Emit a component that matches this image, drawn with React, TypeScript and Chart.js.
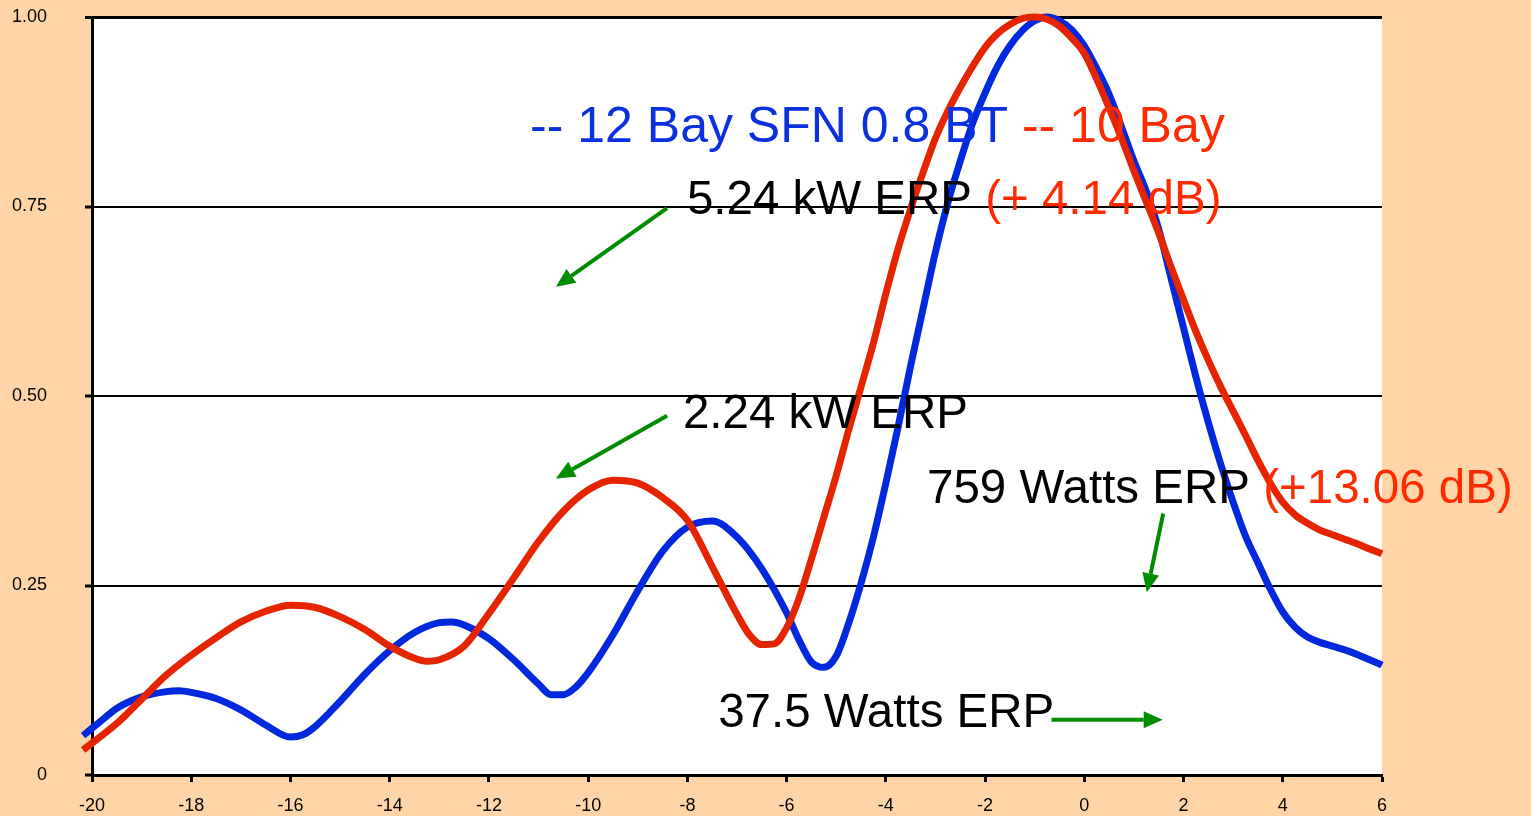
import React, { useEffect, useRef } from 'react';
import { Chart, registerables } from 'chart.js';

Chart.register(...registerables);

// ---- Data (angle in degrees vs. relative field) ----
const blueCurve: number[][] = [
  [-20.18, 0.052], [-19.75, 0.075], [-19.5, 0.088], [-19, 0.103], [-18.5, 0.11], [-18.25, 0.111],
  [-18, 0.109], [-17.5, 0.101], [-17, 0.086], [-16.5, 0.066], [-16, 0.05], [-15.75, 0.053],
  [-15.5, 0.064], [-15, 0.097], [-14.5, 0.133], [-14, 0.164], [-13.5, 0.188], [-13, 0.201],
  [-12.75, 0.202], [-12.5, 0.198], [-12, 0.18], [-11.5, 0.152], [-11, 0.12], [-10.75, 0.106],
  [-10.5, 0.106], [-10.25, 0.116], [-10, 0.135], [-9.5, 0.185], [-9, 0.243], [-8.5, 0.295],
  [-8, 0.327], [-7.5, 0.335], [-7, 0.314], [-6.5, 0.272], [-6, 0.214], [-5.75, 0.178],
  [-5.5, 0.149], [-5.25, 0.142], [-5, 0.157], [-4.75, 0.2], [-4.5, 0.253], [-4.25, 0.314],
  [-4, 0.385], [-3.75, 0.46], [-3.5, 0.54], [-3.25, 0.615], [-3, 0.69], [-2.75, 0.755],
  [-2.5, 0.81], [-2.25, 0.86], [-2, 0.9], [-1.75, 0.935], [-1.5, 0.962], [-1.25, 0.982],
  [-1, 0.995], [-0.75, 1.0], [-0.5, 0.995], [-0.25, 0.983], [0, 0.962], [0.25, 0.932],
  [0.5, 0.898], [0.75, 0.855], [1, 0.81], [1.25, 0.77], [1.5, 0.72], [1.75, 0.655],
  [2, 0.59], [2.25, 0.525], [2.5, 0.465], [2.75, 0.41], [3, 0.36], [3.25, 0.315],
  [3.5, 0.28], [3.75, 0.245], [4, 0.215], [4.25, 0.195], [4.5, 0.182], [4.75, 0.175],
  [5, 0.17], [5.25, 0.165], [5.5, 0.159], [5.75, 0.152], [6, 0.145], [6.16, 0.138],
];

const redCurve: number[][] = [
  [-20.18, 0.033], [-19.5, 0.068], [-19, 0.1], [-18.5, 0.132], [-18, 0.158], [-17.5, 0.181],
  [-17, 0.202], [-16.5, 0.216], [-16, 0.224], [-15.5, 0.221], [-15, 0.209], [-14.5, 0.192],
  [-14, 0.17], [-13.5, 0.154], [-13.25, 0.15], [-13, 0.152], [-12.5, 0.17], [-12, 0.213],
  [-11.5, 0.26], [-11, 0.308], [-10.5, 0.348], [-10, 0.376], [-9.5, 0.389], [-9, 0.385],
  [-8.5, 0.366], [-8, 0.336], [-7.5, 0.275], [-7, 0.212], [-6.75, 0.185], [-6.5, 0.172],
  [-6.25, 0.173], [-6, 0.194], [-5.75, 0.233], [-5.5, 0.285], [-5.25, 0.34], [-5, 0.395],
  [-4.75, 0.455], [-4.5, 0.512], [-4.25, 0.57], [-4, 0.635], [-3.75, 0.695], [-3.5, 0.747],
  [-3.25, 0.795], [-3, 0.84], [-2.75, 0.876], [-2.5, 0.907], [-2.25, 0.935], [-2, 0.96],
  [-1.75, 0.978], [-1.5, 0.99], [-1.25, 0.998], [-1, 1.0], [-0.75, 0.997], [-0.5, 0.988],
  [-0.25, 0.972], [0, 0.952], [0.25, 0.918], [0.5, 0.88], [0.75, 0.84], [1, 0.797],
  [1.25, 0.756], [1.5, 0.715], [1.75, 0.67], [2, 0.627], [2.25, 0.585], [2.5, 0.547],
  [2.75, 0.512], [3, 0.48], [3.25, 0.448], [3.5, 0.415], [3.75, 0.385], [4, 0.36],
  [4.25, 0.343], [4.5, 0.332], [4.75, 0.323], [5, 0.317], [5.25, 0.311], [5.5, 0.305],
  [5.75, 0.298], [6, 0.292], [6.16, 0.287],
];

const xRange = [-20, 6];
const xStep = 2;
const yRange = [0, 1];
const yStep = 0.25;

// Annotation texts: [x, y (baseline), font size, [text, colorKey]...]
const titleParts = [['-- 12 Bay SFN 0.8 BT ', 'blue'], ['-- 10 Bay', 'red']];
const labelTexts: { x: number; y: number; size: number; parts: string[][] }[] = [
  { x: -11.17, y: 0.835, size: 50, parts: titleParts },
  { x: -8.01, y: 0.74, size: 47.5, parts: [['5.24 kW ERP ', 'black'], ['(+ 4.14 dB)', 'red']] },
  { x: -8.09, y: 0.458, size: 47.5, parts: [['2.24 kW ERP', 'black']] },
  { x: -3.17, y: 0.359, size: 47.5, parts: [['759 Watts ERP ', 'black'], ['(+13.06 dB)', 'red']] },
  { x: -7.38, y: 0.063, size: 47.5, parts: [['37.5 Watts ERP', 'black']] },
];

// Arrows: [fromX, fromY, toX, toY]
const arrows: number[][] = [
  [-8.41, 0.748, -10.65, 0.644],
  [-8.41, 0.474, -10.65, 0.391],
  [1.59, 0.345, 1.26, 0.241],
  [-0.66, 0.073, 1.58, 0.073],
];

const PEACH = '#FFD5A8';
const BLUE_LINE = '#0028DC';
const RED_LINE = '#E52400';
const TEXT_COLORS: Record<string, string> = { blue: '#0A30E0', red: '#FF2A00', black: '#000000' };
const GREEN = '#008C00';
const FONT = '"Liberation Sans", Arial, sans-serif';

const decorPlugin = {
  id: 'decor',
  beforeDraw(chart: any) {
    const { ctx, chartArea } = chart;
    ctx.save();
    ctx.fillStyle = PEACH;
    ctx.fillRect(0, 0, chart.width, chart.height);
    ctx.fillStyle = '#FFFFFF';
    ctx.fillRect(chartArea.left, chartArea.top, chartArea.right - chartArea.left, chartArea.bottom - chartArea.top);
    ctx.restore();
  },
  afterDatasetsDraw(chart: any) {
    const { ctx } = chart;
    const xs = chart.scales.x;
    const ys = chart.scales.y;
    ctx.save();
    // arrows
    for (const a of arrows) {
      const x1 = xs.getPixelForValue(a[0]);
      const y1 = ys.getPixelForValue(a[1]);
      const x2 = xs.getPixelForValue(a[2]);
      const y2 = ys.getPixelForValue(a[3]);
      const ang = Math.atan2(y2 - y1, x2 - x1);
      const headLen = 19;
      const headHalf = 8.5;
      const bx = x2 - headLen * Math.cos(ang);
      const by = y2 - headLen * Math.sin(ang);
      ctx.strokeStyle = GREEN;
      ctx.fillStyle = GREEN;
      ctx.lineWidth = 4;
      ctx.beginPath();
      ctx.moveTo(x1, y1);
      ctx.lineTo(bx, by);
      ctx.stroke();
      ctx.beginPath();
      ctx.moveTo(x2, y2);
      ctx.lineTo(bx + headHalf * Math.sin(ang), by - headHalf * Math.cos(ang));
      ctx.lineTo(bx - headHalf * Math.sin(ang), by + headHalf * Math.cos(ang));
      ctx.closePath();
      ctx.fill();
    }
    // texts
    ctx.textBaseline = 'alphabetic';
    ctx.textAlign = 'left';
    for (const t of labelTexts) {
      let px = xs.getPixelForValue(t.x);
      const py = ys.getPixelForValue(t.y);
      ctx.font = `${t.size}px ${FONT}`;
      for (const [s, c] of t.parts) {
        ctx.fillStyle = TEXT_COLORS[c];
        ctx.fillText(s, px, py);
        px += ctx.measureText(s).width;
      }
    }
    ctx.restore();
  },
};

export default function App() {
  const canvasRef = useRef<HTMLCanvasElement | null>(null);

  useEffect(() => {
    document.body.style.margin = '0';
    const canvas = canvasRef.current;
    if (!canvas) return;
    const chart = new Chart(canvas, {
      type: 'line',
      data: {
        datasets: [
          {
            label: '10 Bay',
            data: redCurve.map(([x, y]) => ({ x, y })),
            borderColor: RED_LINE,
            borderWidth: 7,
            pointRadius: 0,
            fill: false,
            cubicInterpolationMode: 'monotone',
            clip: false,
            order: 1,
          },
          {
            label: '12 Bay SFN 0.8 BT',
            data: blueCurve.map(([x, y]) => ({ x, y })),
            borderColor: BLUE_LINE,
            borderWidth: 7,
            pointRadius: 0,
            fill: false,
            cubicInterpolationMode: 'monotone',
            clip: false,
            order: 2,
          },
        ],
      },
      options: {
        animation: false,
        responsive: false,
        maintainAspectRatio: false,
        layout: { autoPadding: false, padding: { left: 0, top: 17, right: 149, bottom: 0 } },
        plugins: { legend: { display: false }, tooltip: { enabled: false }, title: { display: false } },
        scales: {
          x: {
            type: 'linear',
            position: 'bottom',
            min: xRange[0],
            max: xRange[1],
            afterFit: (s: any) => {
              s.height = 41;
              s.paddingLeft = 0;
              s.paddingRight = 0;
            },
            ticks: {
              stepSize: xStep,
              color: '#000',
              font: { family: FONT, size: 18 },
              padding: 13,
              maxRotation: 0,
              autoSkip: false,
            },
            grid: {
              drawOnChartArea: false,
              drawTicks: true,
              tickLength: 7,
              tickWidth: 3,
              tickColor: '#000',
              color: '#000',
            },
            border: { display: true, color: '#000', width: 3 },
          },
          y: {
            type: 'linear',
            min: yRange[0],
            max: yRange[1],
            afterFit: (s: any) => {
              s.width = 92;
              s.paddingTop = 0;
              s.paddingBottom = 0;
            },
            ticks: {
              stepSize: yStep,
              color: '#000',
              font: { family: FONT, size: 18 },
              padding: 38,
              callback: (v: any) => (Number(v) === 0 ? '0' : Number(v).toFixed(2)),
            },
            grid: {
              color: '#000',
              lineWidth: (c: any) => (c.tick && c.tick.value === 1 ? 3 : 2),
              drawTicks: true,
              tickLength: 7,
              tickWidth: 3,
              tickColor: '#000',
            },
            border: { display: true, color: '#000', width: 3 },
          },
        },
      },
      plugins: [decorPlugin],
    } as any);
    return () => chart.destroy();
  }, []);

  return (
    <div style={{ position: 'absolute', left: 0, top: 0, width: 1531, height: 816, background: PEACH }}>
      <canvas ref={canvasRef} width={1531} height={816} style={{ width: 1531, height: 816, display: 'block' }} />
    </div>
  );
}
